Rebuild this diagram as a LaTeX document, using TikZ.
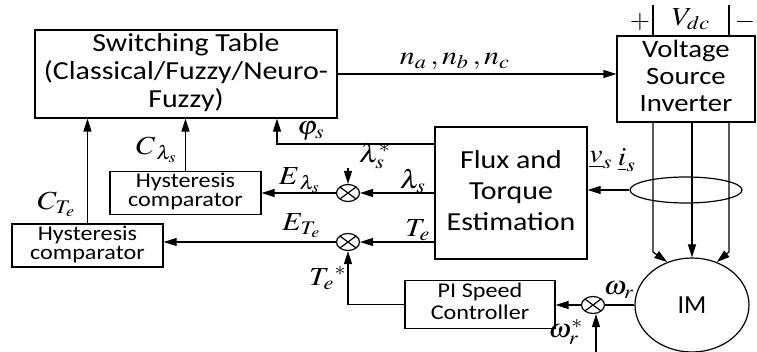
\documentclass[tikz,border=0pt]{standalone}
\usepackage{amsmath}
\usepackage{mathptmx}
\usepackage{fontspec}
\setmainfont{Carlito}
\usetikzlibrary{arrows.meta,shapes.geometric}

\newcommand{\wtxt}[1]{\scalebox{1.15}[1]{\begin{tabular}{@{}c@{}}#1\end{tabular}}}
\newcommand{\mlab}[1]{\scalebox{1.15}[1]{$#1$}}

\tikzset{
  blk/.style={draw,align=center,inner sep=1pt},
  sumj/.style={draw,ellipse,minimum width=11.5pt,minimum height=8.5pt,inner sep=0pt,
    path picture={\draw (path picture bounding box.north west) -- (path picture bounding box.south east)
      (path picture bounding box.north east) -- (path picture bounding box.south west);}},
  lbl/.style={inner sep=0pt,font=\fontsize{13}{15}\selectfont}
}

\begin{document}
\begin{tikzpicture}[x=0.5pt,y=-0.5pt,line width=0.6pt,>={Triangle[length=6.5pt,width=4pt]},
  font=\fontsize{13}{15.5}\selectfont]
\useasboundingbox (0,0) rectangle (757,352);
% blocks
\node[blk,minimum width=151pt,minimum height=41pt,font=\fontsize{13}{14}\selectfont] (swt) at (186,74)
  {\wtxt{Switching Table\\(Classical/Fuzzy/Neuro-\\Fuzzy)}};
\node[blk,minimum width=69pt,minimum height=43pt,font=\fontsize{12.5}{13.5}\selectfont] (vsi) at (686,79)
  {\wtxt{Voltage\\Source\\Inverter}};
\node[blk,minimum width=76pt,minimum height=66pt] (flux) at (511,193) {\wtxt{Flux and\\Torque\\Estimation}};
\node[blk,minimum width=75.5pt,minimum height=20pt,font=\fontsize{10.5}{9.5}\selectfont] (hysl) at (185.5,193)
  {\wtxt{Hysteresis\\comparator}};
\node[blk,minimum width=75.5pt,minimum height=20.5pt,font=\fontsize{10.5}{9.5}\selectfont] (hyst) at (87.5,245.5)
  {\wtxt{Hysteresis\\comparator}};
\node[blk,minimum width=75pt,minimum height=21.5pt,font=\fontsize{10.5}{11}\selectfont] (pi) at (480,304.5)
  {\wtxt{PI Speed\\Controller}};
\node[draw,ellipse,minimum width=57pt,minimum height=47pt,inner sep=0pt,font=\fontsize{13}{15}\selectfont] (im) at (692,305) {IM};
\node[draw,ellipse,minimum width=56pt,minimum height=13pt,inner sep=0pt] (sens) at (686,190) {};
% summing junctions
\node[sumj] (sl) at (348,193) {};
\node[sumj] (st) at (348,242) {};
\node[sumj] (sw) at (593,305) {};
% helper points
\coordinate (dcp) at (653,5);
\coordinate (dcn) at (729,5);
\coordinate (pa) at (653,252);
\coordinate (pc) at (729,252);
\coordinate (phi) at (277,144);
\coordinate (lref) at (348,168);
\coordinate (wref) at (596,352);
% connectors
\draw[->] (swt.east) -- (swt.east -| vsi.west);
\draw (dcp) -- (dcp |- vsi.north);
\draw (dcn) -- (dcn |- vsi.north);
\draw[->] (pa |- vsi.south) -- (pa) -- (im.120);
\draw[->] (im.north |- vsi.south) -- (im.north);
\draw[->] (pc |- vsi.south) -- (pc) -- (im.60);
\draw[->] (sens.west) -- (sens.west -| flux.east);
\draw[->] (phi -| flux.west) -- (phi) -- (phi |- swt.south);
\draw[->] (flux.west |- sl) -- (sl);
\draw[->] (lref) -- (sl.north);
\draw[->] (sl) -- (hysl.east);
\draw[->] (hysl.north) -- (hysl.north |- swt.south);
\draw[->] (flux.west |- st) -- (st);
\draw[->] (st) -- (st -| hyst.east);
\draw[->] (hyst.north) -- (hyst.north |- swt.south);
\draw[->] (pi.west) -| (st.south);
\draw (im.west) -- (sw);
\draw[->] (sw) -- (sw -| pi.east);
\draw[->] (wref) -- (wref |- sw.south);
% labels
\node[lbl] (lnabc) at (455,61) {\mlab{n_a\,, n_b\,, n_c}};
\node[lbl] (lplus) at (640,22) {$+$};
\node[lbl] (lvdc) at (691,19) {\mlab{V_{dc}}};
\node[lbl] (lminus) at (745,22) {$-$};
\node[lbl] (lphi) at (311,131) {\mlab{\varphi_s}};
\node[lbl] (llref) at (375,156) {\mlab{\lambda_s^{*}}};
\node[lbl] (llam) at (413,181) {\mlab{\lambda_s}};
\node[lbl] (lel) at (300,180) {\mlab{E_{\,\lambda_s}}};
\node[lbl] (lcl) at (157,150) {\mlab{C_{\,\lambda_s}}};
\node[lbl] (lte) at (418,230) {\mlab{T_e}};
\node[lbl] (let) at (302,226) {\mlab{E_{T_e}}};
\node[lbl] (lct) at (57,204) {\mlab{C_{T_e}}};
\node[lbl] (ltref) at (328,278) {\mlab{T_e{}^{*}}};
\node[lbl] (lvs) at (601,160) {\mlab{\underline{v}_s}};
\node[lbl] (lis) at (627,160) {\mlab{\underline{i}_s}};
\node[lbl] (lwr) at (619,290) {\mlab{\omega_r}};
\node[lbl] (lwref) at (566,332) {\mlab{\omega_r^{*}}};
\end{tikzpicture}
\end{document}
